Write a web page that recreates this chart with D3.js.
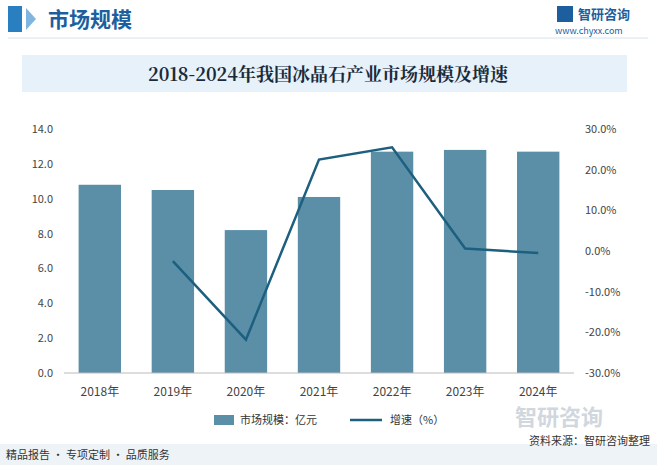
<!DOCTYPE html>
<html><head><meta charset="utf-8">
<script src="https://cdn.jsdelivr.net/npm/d3@7"></script>
<style>body{margin:0;background:#fff}svg{display:block;font-family:"Noto Sans CJK SC","Noto Sans",sans-serif}</style>
</head><body><svg id="c" width="657" height="465"></svg>
<script>
var years = ["2018年","2019年","2020年","2021年","2022年","2023年","2024年"];
var scale = [10.8, 10.5, 8.2, 10.1, 12.7, 12.8, 12.7];      // 市场规模 亿元
var growth = [null, -2.5, -21.8, 22.5, 25.5, 0.6, -0.5];     // 增速 %
var leftTicks = [0,2,4,6,8,10,12,14];
var rightTicks = [-30,-20,-10,0,10,20,30];

var svg = d3.select("#c");
var barCol = "#5b8fa8", lineCol = "#1d5f7e";

// header
svg.append("rect").attr("x",8).attr("y",6).attr("width",14).attr("height",26).attr("fill","#2a7fc0");
svg.append("path").attr("d","M26,8 l10,11 l-10,11 z").attr("fill","#7fb5de");
svg.append("text").attr("x",48).attr("y",27).attr("font-size",21).attr("font-weight","bold").attr("fill","#1d5f9e").text("市场规模");
svg.append("line").attr("x1",8).attr("x2",648).attr("y1",38).attr("y2",38).attr("stroke","#d5e3ee");
svg.append("rect").attr("x",557).attr("y",6).attr("width",16).attr("height",16).attr("fill","#1d5f9e");
svg.append("text").attr("x",578).attr("y",19).attr("font-size",13).attr("font-weight","bold").attr("fill","#1d5f9e").text("智研咨询");
svg.append("text").attr("x",555).attr("y",34).attr("font-size",9).attr("fill","#1d5f9e").text("www.chyxx.com");

// title band
svg.append("rect").attr("x",22).attr("y",55).attr("width",605).attr("height",37).attr("fill","#e6f1f9");
svg.append("text").attr("x",328).attr("y",81).attr("text-anchor","middle").attr("font-size",18).attr("font-weight","bold")
  .attr("font-family","'Noto Serif CJK SC','Noto Sans CJK SC',serif").attr("fill","#1a2a3a").text("2018-2024年我国冰晶石产业市场规模及增速");

var x = d3.scaleBand().domain(years).range([64,574]).paddingInner(0.42).paddingOuter(0.2);
var yL = d3.scaleLinear().domain([0,14]).range([373,129]);
var yR = d3.scaleLinear().domain([-30,30]).range([373,129]);

svg.append("g").selectAll("rect").data(scale).join("rect")
  .attr("x",(d,i)=>x(years[i])).attr("width",x.bandwidth())
  .attr("y",d=>yL(d)).attr("height",d=>yL(0)-yL(d)).attr("fill",barCol);

var line = d3.line().defined(d=>d.v!==null).x(d=>x(d.y)+x.bandwidth()/2).y(d=>yR(d.v));
svg.append("path").datum(growth.map((v,i)=>({y:years[i],v:v})))
  .attr("d",line).attr("fill","none").attr("stroke",lineCol).attr("stroke-width",2.5);

var al = svg.append("g").attr("transform","translate(58,0)").call(d3.axisLeft(yL).tickValues(leftTicks).tickFormat(d3.format(".1f")).tickSize(0));
var ar = svg.append("g").attr("transform","translate(580,0)").call(d3.axisRight(yR).tickValues(rightTicks).tickFormat(d=>d.toFixed(1)+"%").tickSize(0));
var ab = svg.append("g").attr("transform","translate(0,373)").call(d3.axisBottom(x).tickSize(0).tickPadding(14));
svg.selectAll(".domain").remove();
ab.append("line").attr("x1",64).attr("x2",574).attr("stroke","#bbb");
svg.selectAll(".tick text").attr("font-size",11).attr("fill","#444").attr("font-family","'Noto Sans CJK SC',sans-serif");
ab.selectAll(".tick text").attr("font-size",12);
al.selectAll(".tick text").attr("dx",-2);
ar.selectAll(".tick text").attr("dx",2);

// legend
var lg = svg.append("g").attr("font-size",11).attr("fill","#333");
lg.append("rect").attr("x",214).attr("y",415).attr("width",20).attr("height",10).attr("fill",barCol);
lg.append("text").attr("x",240).attr("y",424).text("市场规模：亿元");
lg.append("line").attr("x1",350).attr("x2",382).attr("y1",420).attr("y2",420).attr("stroke",lineCol).attr("stroke-width",2.5);
lg.append("text").attr("x",390).attr("y",424).text("增速（%）");

// footer
svg.append("rect").attr("x",0).attr("y",444).attr("width",657).attr("height",21).attr("fill","#eef3f7");
svg.append("text").attr("x",6).attr("y",459).attr("font-size",11).attr("fill","#333").text("精品报告 · 专项定制 · 品质服务");
svg.append("text").attr("x",650).attr("y",445).attr("text-anchor","end").attr("font-size",11).attr("fill","#333").text("资料来源：智研咨询整理");
svg.append("text").attr("x",515).attr("y",425).attr("font-size",22).attr("font-weight","bold").attr("fill","#d0d7de").text("智研咨询");
</script></body></html>
